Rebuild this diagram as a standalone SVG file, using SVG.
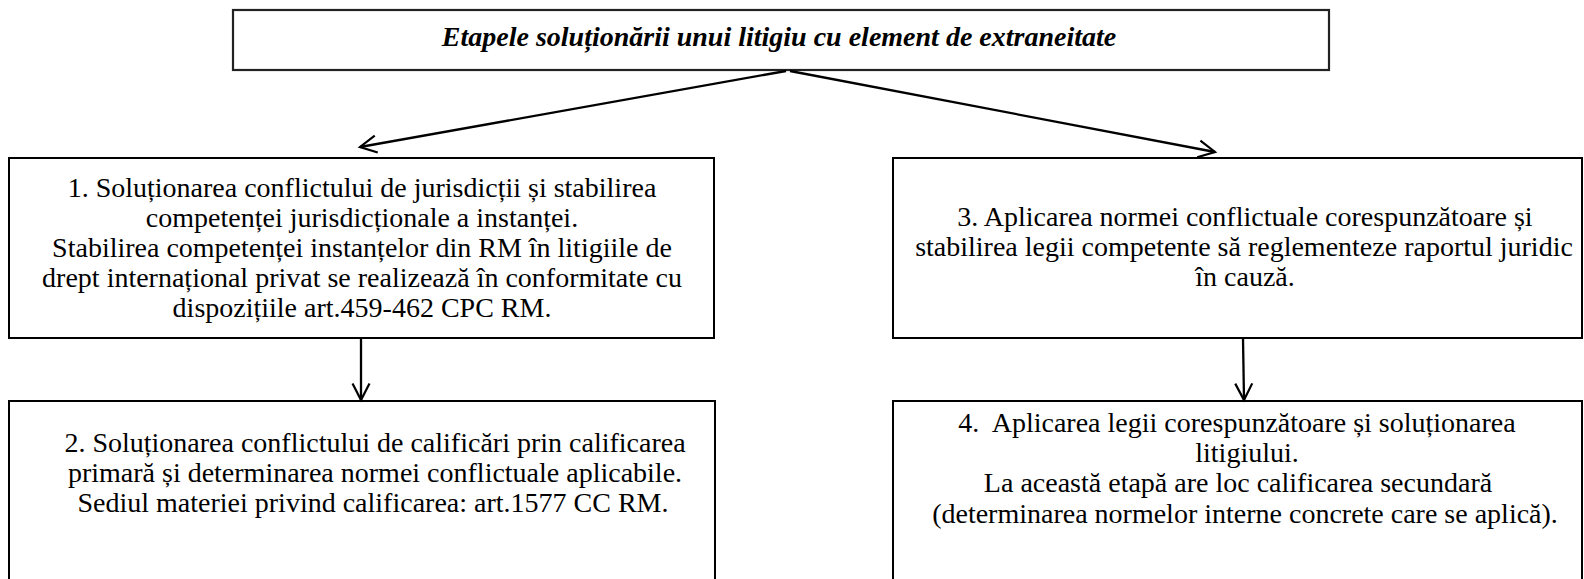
<svg xmlns="http://www.w3.org/2000/svg" width="1584" height="579" viewBox="0 0 1584 579">
<style>
.box{fill:#fff;stroke:#000;stroke-width:2}
.tbox{fill:#fff;stroke:#222;stroke-width:2.2}
.t{font-family:"Liberation Serif","Times New Roman",serif;font-size:28px;text-anchor:middle;fill:#000}
.title{font-weight:bold;font-style:italic}
.con{fill:none;stroke:#000;stroke-width:2.3;marker-end:url(#arr)}
</style>
<defs>
<marker id="arr" markerUnits="userSpaceOnUse" viewBox="-20 -20 40 40" markerWidth="40" markerHeight="40" refX="0" refY="0" orient="auto" overflow="visible">
<path d="M-16.5,-8.5 L0,0 L-16.5,8.5" fill="none" stroke="#000" stroke-width="2.2"/>
</marker>
</defs>
<rect width="1584" height="579" fill="#fff"/>
<g id="title">
<rect class="tbox" x="233" y="10" width="1096" height="60"/>
<text class="t title" x="779" y="46">Etapele soluționării unui litigiu cu element de extraneitate</text>
</g>
<g id="step1">
<rect class="box" x="9" y="158" width="705" height="180"/>
<text class="t" x="362" y="196.5">1. Soluționarea conflictului de jurisdicții și stabilirea</text>
<text class="t" x="362" y="226.7">competenței jurisdicționale a instanței.</text>
<text class="t" x="362" y="256.9">Stabilirea competenței instanțelor din RM în litigiile de</text>
<text class="t" x="362" y="287.1">drept internațional privat se realizează în conformitate cu</text>
<text class="t" x="362" y="317.3">dispozițiile art.459-462 CPC RM.</text>
</g>
<g id="step2">
<rect class="box" x="9" y="401" width="706" height="200"/>
<text class="t" x="375" y="452">2. Soluționarea conflictului de calificări prin calificarea</text>
<text class="t" x="375" y="482.2">primară și determinarea normei conflictuale aplicabile.</text>
<text class="t" x="373" y="512.4">Sediul materiei privind calificarea: art.1577 CC RM.</text>
</g>
<g id="step3">
<rect class="box" x="893" y="158" width="689" height="180"/>
<text class="t" x="1245" y="226">3. Aplicarea normei conflictuale corespunzătoare și</text>
<text class="t" x="1244" y="256.2">stabilirea legii competente să reglementeze raportul juridic</text>
<text class="t" x="1245" y="286.4">în cauză.</text>
</g>
<g id="step4">
<rect class="box" x="893" y="401" width="689" height="200"/>
<text class="t" x="1237" y="432" xml:space="preserve">4.  Aplicarea legii corespunzătoare și soluționarea</text>
<text class="t" x="1247" y="462.2">litigiului.</text>
<text class="t" x="1238" y="492.4">La această etapă are loc calificarea secundară</text>
<text class="t" x="1245" y="522.6">(determinarea normelor interne concrete care se aplică).</text>
</g>
<g id="connectors">
<line class="con" x1="786" y1="71" x2="360" y2="147"/>
<line class="con" x1="790" y1="71" x2="1215" y2="152"/>
<line class="con" x1="361" y1="338" x2="361" y2="400"/>
<line class="con" x1="1243" y1="338" x2="1244" y2="400"/>
</g>
</svg>
